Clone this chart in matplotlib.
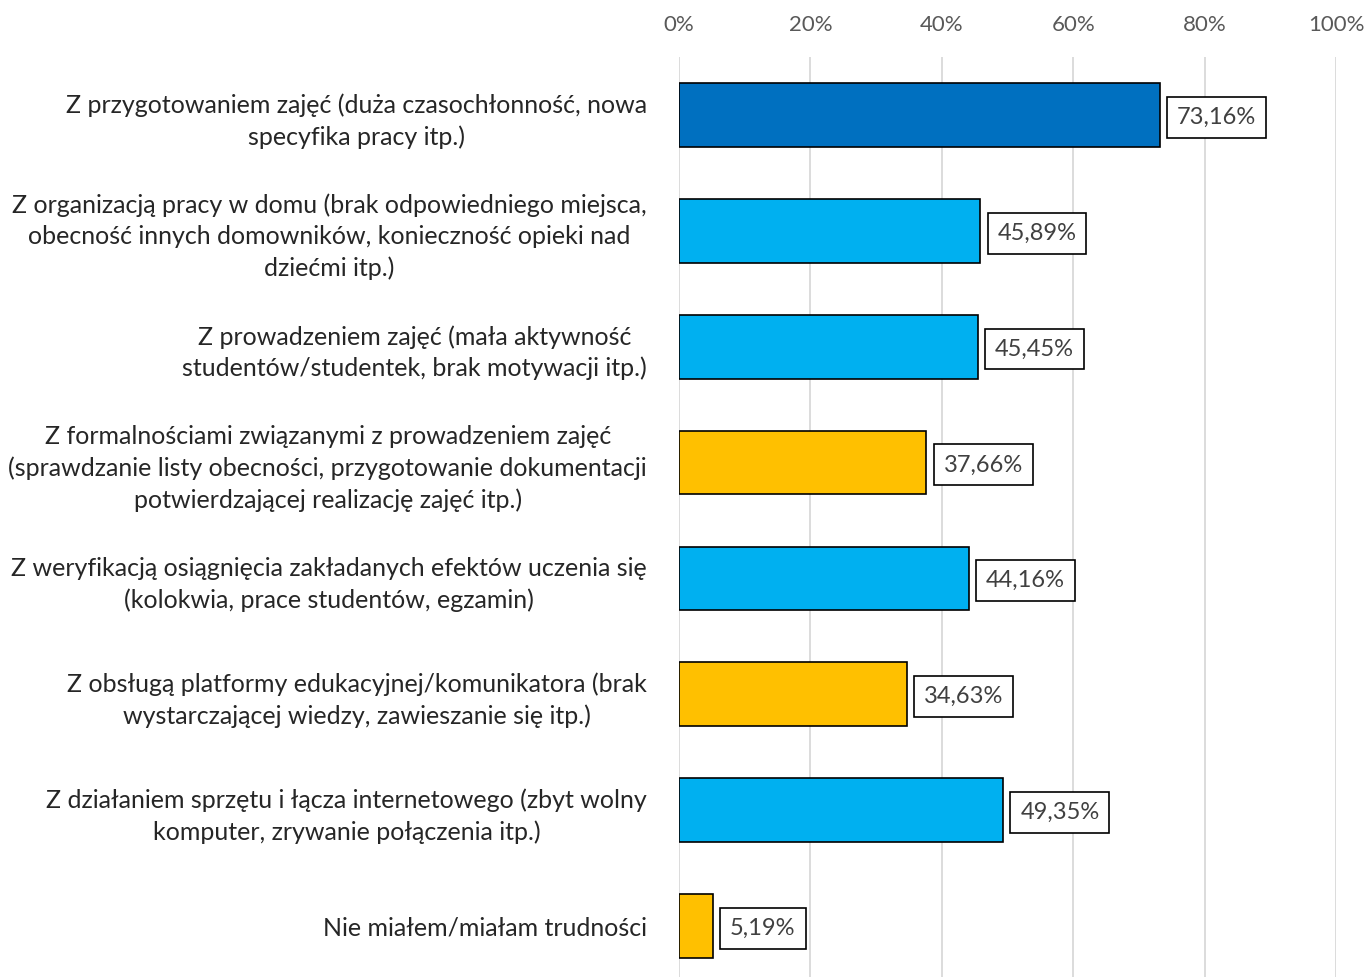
import matplotlib
matplotlib.use("Agg")
import matplotlib.pyplot as plt
from matplotlib.ticker import FuncFormatter

plt.rcParams['font.family'] = ['Lato', 'DejaVu Sans']

kategorie = [
    "Z przygotowaniem zajęć (duża czasochłonność, nowa\nspecyfika pracy itp.)",
    "Z organizacją pracy w domu (brak odpowiedniego miejsca,\nobecność innych domowników, konieczność opieki nad\ndziećmi itp.)",
    "Z prowadzeniem zajęć (mała aktywność\nstudentów/studentek, brak motywacji itp.)",
    "Z formalnościami związanymi z prowadzeniem zajęć\n(sprawdzanie listy obecności, przygotowanie dokumentacji\npotwierdzającej realizację zajęć itp.)",
    "Z weryfikacją osiągnięcia zakładanych efektów uczenia się\n(kolokwia, prace studentów, egzamin)",
    "Z obsługą platformy edukacyjnej/komunikatora (brak\nwystarczającej wiedzy, zawieszanie się itp.)",
    "Z działaniem sprzętu i łącza internetowego (zbyt wolny\nkomputer, zrywanie połączenia itp.)",
    "Nie miałem/miałam trudności",
]
wartosci = [73.16, 45.89, 45.45, 37.66, 44.16, 34.63, 49.35, 5.19]
kolory = ['#0070C0', '#00B0F0', '#00B0F0', '#FFC000', '#00B0F0', '#FFC000', '#00B0F0', '#FFC000']

fig = plt.figure(figsize=(13.65, 9.77), dpi=100)
ax = fig.add_axes([679/1365, 0, (1336-679)/1365, 1 - 57/977])

pozycje = range(len(kategorie))
ax.barh(pozycje, wartosci, height=0.55, color=kolory, edgecolor='black', linewidth=1.2, zorder=3)

for i, v in enumerate(wartosci):
    ax.text(v + 2.6, i + 0.02, f"{v:.2f}".replace('.', ',') + '%', va='center', ha='left',
            fontsize=17, color='#404040', zorder=4,
            bbox=dict(boxstyle='square,pad=0.42', fc='white', ec='black', lw=1.2))

ax.set_xlim(0, 100)
ax.set_ylim(7.44, -0.5)
ax.set_xticks(range(0, 101, 20))
ax.xaxis.set_major_formatter(FuncFormatter(lambda x, p: f"{int(x)}%"))
ax.xaxis.tick_top()
ax.tick_params(axis='x', length=0, pad=16, labelsize=16, labelcolor='#595959')
ax.set_yticks(list(pozycje))
ax.set_yticklabels(kategorie, fontsize=18, color='#262626', multialignment='center', linespacing=1.42)
ax.tick_params(axis='y', length=0, pad=23)
ax.grid(axis='x', color='#D9D9D9', linewidth=1.3, zorder=0)
for s in ax.spines.values():
    s.set_visible(False)

fig.savefig('out.png', dpi=100)
